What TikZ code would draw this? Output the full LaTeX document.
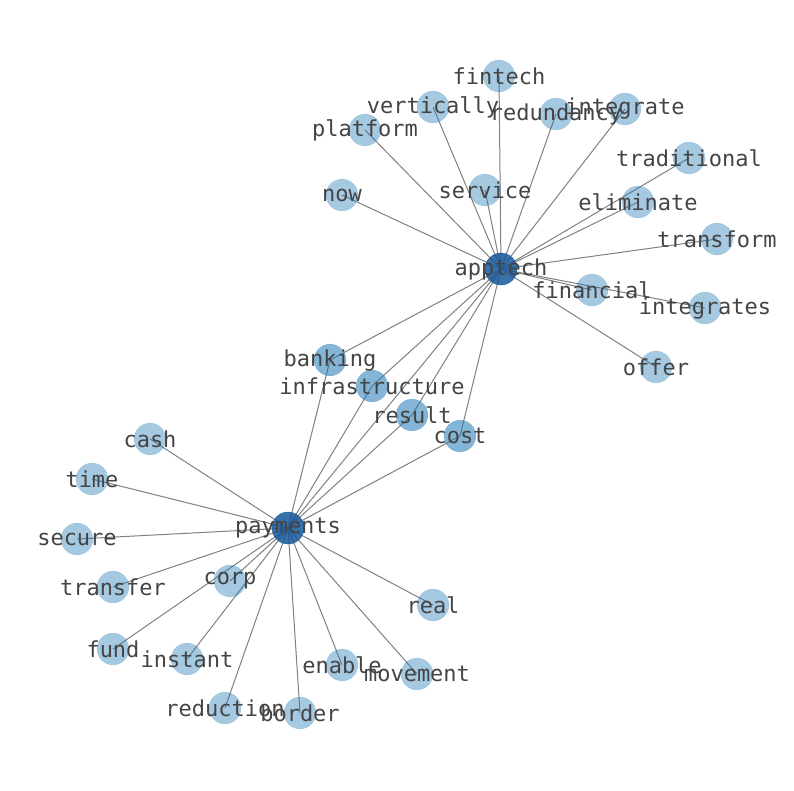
\documentclass[tikz,border=0pt]{standalone}
\usepackage{fontspec}
\newfontfamily\wordfont{DejaVu Sans Mono}
\usepackage{tikz}
\usetikzlibrary{
    backgrounds
}
\definecolor{leafblue}{RGB}{31,119,180}
\definecolor{hubblue}{RGB}{21,87,154}
\definecolor{wordgray}{RGB}{68,68,68}
\definecolor{linkgray}{RGB}{128,128,128}
\tikzset{
    leaf/.style={
        circle,
        minimum size=32pt,
        inner sep=0pt,
        fill=leafblue,
        fill opacity=0.4,
        draw=leafblue,
        draw opacity=0.15
    },
    shared/.style={
        leaf,
        fill opacity=0.55
    },
    hub/.style={
        leaf,
        fill=hubblue,
        fill opacity=0.85,
        draw=hubblue,
        draw opacity=0.9
    },
    word/.style={
        font=\wordfont\fontsize{22}{26}\selectfont,
        text=wordgray,
        inner sep=0pt
    },
    link/.style={
        draw=linkgray,
        line width=1pt
    }
}

\begin{document}
\begin{tikzpicture}[
    x=1pt,
    y=-1pt
]
    \useasboundingbox (0,0) rectangle (794,790);

    % Zentren
    \node[hub]    (apptech)        at (501,269) {};
    \node[hub]    (payments)       at (288,528) {};

    % Blaetter von apptech
    \node[leaf]   (fintech)        at (499,76)  {};
    \node[leaf]   (vertically)     at (433,107) {};
    \node[leaf]   (redundancy)     at (556,114) {};
    \node[leaf]   (integrate)      at (625,109) {};
    \node[leaf]   (platform)       at (365,130) {};
    \node[leaf]   (traditional)    at (689,158) {};
    \node[leaf]   (service)        at (485,190) {};
    \node[leaf]   (now)            at (342,195) {};
    \node[leaf]   (eliminate)      at (638,202) {};
    \node[leaf]   (transform)      at (717,239) {};
    \node[leaf]   (financial)      at (592,290) {};
    \node[leaf]   (integrates)     at (705,308) {};
    \node[leaf]   (offer)          at (656,367) {};

    % gemeinsame Knoten
    \node[shared] (banking)        at (330,360) {};
    \node[shared] (infrastructure) at (372,386) {};
    \node[shared] (result)         at (412,415) {};
    \node[shared] (cost)           at (460,436) {};

    % Blaetter von payments
    \node[leaf]   (cash)           at (150,439) {};
    \node[leaf]   (time)           at (92,479)  {};
    \node[leaf]   (secure)         at (77,539)  {};
    \node[leaf]   (transfer)       at (113,587) {};
    \node[leaf]   (corp)           at (230,581) {};
    \node[leaf]   (real)           at (433,605) {};
    \node[leaf]   (fund)           at (113,649) {};
    \node[leaf]   (instant)        at (187,659) {};
    \node[leaf]   (enable)         at (342,665) {};
    \node[leaf]   (movement)       at (417,674) {};
    \node[leaf]   (reduction)      at (225,708) {};
    \node[leaf]   (border)         at (300,713) {};

    % Kanten
    \begin{scope}[on background layer]
        \foreach \w in {fintech,vertically,redundancy,integrate,platform,
                        traditional,service,now,eliminate,transform,
                        financial,integrates,offer,banking,infrastructure,
                        result,cost,payments}
            \path[link] (apptech.center) -- (\w.center);
        \foreach \w in {cash,time,secure,transfer,corp,real,fund,instant,
                        enable,movement,reduction,border,banking,
                        infrastructure,result,cost}
            \path[link] (payments.center) -- (\w.center);
    \end{scope}

    % Beschriftungen
    \foreach \w in {apptech,payments,fintech,vertically,redundancy,
                    integrate,platform,traditional,service,now,eliminate,
                    transform,financial,integrates,offer,banking,
                    infrastructure,result,cost,cash,time,secure,transfer,
                    corp,real,fund,instant,enable,movement,reduction,border}
        \node[word] (\w-text) at (\w) {\w};

\end{tikzpicture}
\end{document}
